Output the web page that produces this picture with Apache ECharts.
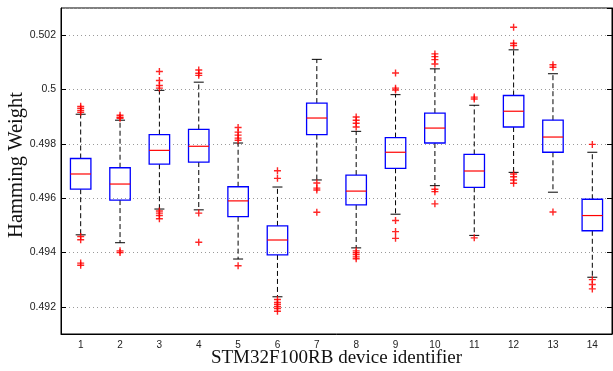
<!DOCTYPE html>
<html>
<head>
<meta charset="utf-8">
<script src="https://cdn.jsdelivr.net/npm/echarts@6/dist/echarts.min.js"></script>
<style>
  html, body { margin: 0; padding: 0; background: #fff; }
  #chart { width: 613px; height: 371px; }
</style>
</head>
<body>
<div id="chart"></div>
<script>
const categories = ['1', '2', '3', '4', '5', '6', '7', '8', '9', '10', '11', '12', '13', '14'];

const upperWhisker = [0.49909, 0.49887, 0.49997, 0.50027, 0.49803, 0.49641, 0.50111, 0.49846, 0.49981, 0.50076, 0.49942, 0.50146, 0.50058, 0.49769];
const q3 = [0.49746, 0.49712, 0.49834, 0.49853, 0.49642, 0.49498, 0.4995, 0.49685, 0.49823, 0.49913, 0.49761, 0.49978, 0.49887, 0.49596];
const median = [0.49689, 0.49652, 0.49776, 0.49791, 0.4959, 0.49446, 0.49895, 0.49626, 0.49769, 0.49858, 0.497, 0.4992, 0.49825, 0.49536];
const q1 = [0.49633, 0.49593, 0.49725, 0.49733, 0.49532, 0.49391, 0.49834, 0.49575, 0.4971, 0.49803, 0.4964, 0.49862, 0.49769, 0.4948];
const lowerWhisker = [0.49465, 0.49436, 0.4956, 0.49557, 0.49376, 0.49237, 0.49667, 0.49417, 0.49541, 0.49646, 0.49463, 0.49695, 0.49622, 0.49309];

const outliers = [
  [0.49938, 0.49931, 0.49923, 0.49916, 0.49459, 0.49447, 0.49361, 0.49353],
  [0.49905, 0.49898, 0.49894, 0.49406, 0.494],
  [0.50066, 0.50033, 0.50015, 0.50005, 0.49553, 0.49545, 0.49536, 0.49524],
  [0.50072, 0.5006, 0.50052, 0.49545, 0.49438],
  [0.4986, 0.49843, 0.49832, 0.49821, 0.49813, 0.49351],
  [0.49701, 0.49673, 0.49227, 0.49216, 0.49209, 0.49201, 0.49194, 0.49184],
  [0.49656, 0.49637, 0.4963, 0.49548],
  [0.49899, 0.49887, 0.49876, 0.49862, 0.49406, 0.49399, 0.49392, 0.49384, 0.49377],
  [0.50061, 0.50005, 0.49998, 0.49518, 0.49477, 0.49452],
  [0.50131, 0.50121, 0.5011, 0.50094, 0.49633, 0.49624, 0.49579],
  [0.49972, 0.49965, 0.49454],
  [0.50229, 0.5017, 0.50162, 0.49689, 0.49679, 0.49667, 0.49655],
  [0.50091, 0.50082, 0.49549],
  [0.49798, 0.493, 0.49282, 0.49266]
];

const boxData = categories.map((c, i) => [i, lowerWhisker[i], q1[i], median[i], q3[i], upperWhisker[i]]);
const outlierData = [];
outliers.forEach((list, i) => list.forEach(v => outlierData.push([i, v])));

const chart = echarts.init(document.getElementById('chart'));

function renderBox(params, api) {
  const idx = api.value(0);
  const lo = api.coord([idx, api.value(1)]);
  const b1 = api.coord([idx, api.value(2)]);
  const md = api.coord([idx, api.value(3)]);
  const b3 = api.coord([idx, api.value(4)]);
  const hi = api.coord([idx, api.value(5)]);
  const bw = api.size([1, 0])[0] * 0.52;
  const cw = 10;
  const x = lo[0];
  const dash = { stroke: '#000', lineWidth: 1, lineDash: [5, 3] };
  const solid = { stroke: '#000', lineWidth: 1 };
  return {
    type: 'group',
    children: [
      { type: 'line', shape: { x1: x, y1: b3[1], x2: x, y2: hi[1] }, style: dash },
      { type: 'line', shape: { x1: x, y1: b1[1], x2: x, y2: lo[1] }, style: dash },
      { type: 'line', shape: { x1: x - cw / 2, y1: hi[1], x2: x + cw / 2, y2: hi[1] }, style: solid },
      { type: 'line', shape: { x1: x - cw / 2, y1: lo[1], x2: x + cw / 2, y2: lo[1] }, style: solid },
      { type: 'rect', shape: { x: x - bw / 2, y: b3[1], width: bw, height: b1[1] - b3[1] },
        style: { fill: 'none', stroke: '#0000ff', lineWidth: 1.3 } },
      { type: 'line', shape: { x1: x - bw / 2, y1: md[1], x2: x + bw / 2, y2: md[1] },
        style: { stroke: '#ff0000', lineWidth: 1.2 } }
    ]
  };
}

const option = {
  animation: false,
  backgroundColor: '#fff',
  grid: {
    left: 61, right: 1, top: 8, bottom: 37,
    outerBoundsMode: 'none',
    containLabel: false,
    show: true, borderColor: '#000', borderWidth: 1
  },
  xAxis: {
    type: 'category',
    data: categories,
    boundaryGap: true,
    name: 'STM32F100RB device identifier',
    nameLocation: 'middle',
    nameMoveOverlap: false,
    nameGap: 15,
    nameTextStyle: { fontFamily: 'Liberation Serif', fontSize: 19, color: '#111' },
    axisLine: { lineStyle: { color: '#000', width: 1 } },
    axisTick: { show: false },
    axisLabel: { margin: 6, fontFamily: 'Liberation Sans', fontSize: 10, color: '#222' },
    splitLine: { show: false }
  },
  yAxis: [
    {
      type: 'value',
      min: 0.491,
      max: 0.503,
      splitNumber: 6,
      name: 'Hamming Weight',
      nameLocation: 'middle',
      nameMoveOverlap: false,
      nameGap: 34,
      nameTextStyle: { fontFamily: 'Liberation Serif', fontSize: 20.5, color: '#111', padding: [0, 0, 0, 12] },
      axisLine: { show: true, lineStyle: { color: '#000', width: 1 } },
      axisTick: { show: true, inside: true, length: 5, lineStyle: { color: '#000' } },
      axisLabel: { showMinLabel: false, showMaxLabel: false, margin: 5, fontFamily: 'Liberation Sans', fontSize: 10.5, color: '#222' },
      splitLine: { show: true, lineStyle: { color: '#9a9a9a', type: [1, 3], width: 1 } }
    },
    {
      type: 'value',
      position: 'right',
      min: 0.491,
      max: 0.503,
      splitNumber: 6,
      axisLine: { show: true, lineStyle: { color: '#000', width: 1 } },
      axisTick: { show: true, inside: true, length: 5, lineStyle: { color: '#000' } },
      axisLabel: { show: false },
      splitLine: { show: false }
    }
  ],
  series: [
    {
      type: 'custom',
      renderItem: renderBox,
      data: boxData,
      encode: { x: 0, y: [1, 2, 3, 4, 5] },
      z: 3
    },
    {
      type: 'scatter',
      data: outlierData,
      symbol: 'path://M4,0H6V4H10V6H6V10H4V6H0V4H4Z',
      symbolSize: 7,
      itemStyle: { color: '#ff0000', opacity: 0.85 },
      z: 4
    }
  ]
};

chart.setOption(option);
</script>
</body>
</html>
